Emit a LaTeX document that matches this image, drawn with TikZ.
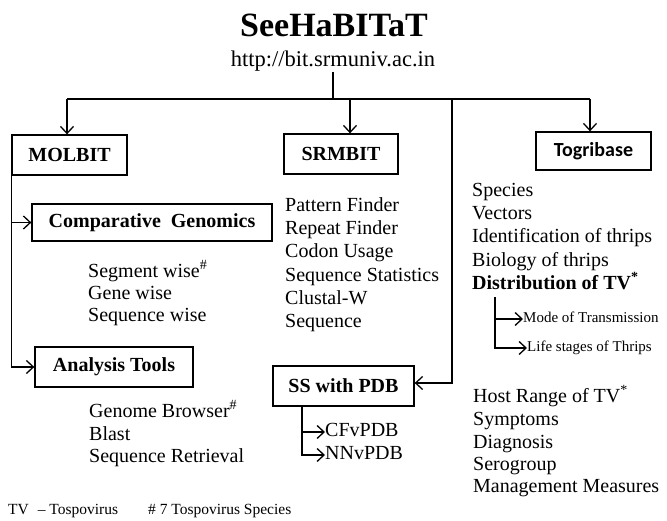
\documentclass[tikz,border=0pt]{standalone}
\usepackage{fontspec}
\setmainfont{Liberation Serif}
\newfontfamily\calib{Carlito}
\usetikzlibrary{arrows.meta}
\tikzset{
  box/.style={draw, line width=1.3pt, rectangle, inner sep=0pt, font=\fontsize{20}{22}\selectfont\bfseries},
  item/.style={anchor=west, inner sep=0pt, text height=13pt, text depth=4pt, font=\fontsize{20}{22}\selectfont},
  small/.style={anchor=west, inner sep=0pt, text height=10pt, text depth=3pt, font=\fontsize{15}{17}\selectfont},
  foot/.style={anchor=west, inner sep=0pt, text height=10pt, text depth=3pt, font=\fontsize{15.5}{17}\selectfont},
  link/.style={line width=1.3pt},
  arr/.style={line width=1.3pt, -{Straight Barb[length=7pt,width=13pt,line width=1.3pt]}},
}
\begin{document}
\begin{tikzpicture}[x=1pt,y=-1pt]
\useasboundingbox (0,0) rectangle (667,521);
% title
\node[font=\fontsize{34}{36}\selectfont\bfseries, inner sep=0pt] (title) at (334,25) {SeeHaBITaT};
\node[font=\fontsize{22.5}{24}\selectfont, inner sep=0pt, text height=16pt, text depth=5pt] (url) at (333,61) {http://bit.srmuniv.ac.in};
% boxes
\node[box, minimum width=115pt, minimum height=40pt] (molbit) at (69.5,155) {MOLBIT};
\node[box, minimum width=240pt, minimum height=37pt] (compgen) at (152,222.5) {Comparative\ \ Genomics};
\node[box, minimum width=158pt, minimum height=40pt] (atools) at (114,367) {Analysis Tools};
\node[box, minimum width=114pt, minimum height=40pt] (srmbit) at (341,154) {SRMBIT};
\node[box, minimum width=141pt, minimum height=40pt] (sspdb) at (343.5,386) {SS with PDB};
\node[box, minimum width=115pt, minimum height=38pt, font=\fontsize{20}{22}\selectfont\calib\bfseries] (togri) at (593.5,151) {Togribase};
% top connectors
\coordinate (hl) at (67,99);
\coordinate (hr) at (590,99);
\coordinate (hv) at (452,99);
\coordinate (hm) at (350,99);
\draw[link] (url.south) -- (url.south |- hl);
\draw[link] (hl) -- (hr);
\draw[arr] (hl) -- (hl |- molbit.north);
\draw[arr] (hm) -- (hm |- srmbit.north);
\draw[arr] (hr) -- (hr |- togri.north);
\coordinate (hvb) at (452,383);
\draw[arr] (hv) -- (hvb) -- (sspdb.east |- hvb);
% MOLBIT tree
\draw[arr] (molbit.south west) |- (atools.west);
\draw[arr] (molbit.south west |- compgen.west) -- (compgen.west);
% Comparative genomics items
\node[item] (seg) at (88,273) {Segment\ wise\textsuperscript{\#}};
\node[item] (gene) at (88,295) {Gene wise};
\node[item] (seqw) at (88,317) {Sequence\ wise};
% Analysis tools items
\node[item] (gb) at (89,413) {Genome Browser\textsuperscript{\#}};
\node[item] (blast) at (89,436) {Blast};
\node[item] (ret) at (89,458) {Sequence\ Retrieval};
% SRMBIT items
\node[item] (pf) at (285,207) {Pattern Finder};
\node[item] (rf) at (285,230) {Repeat Finder};
\node[item] (cu) at (285,253) {Codon Usage};
\node[item] (ss) at (285,277) {Sequence\ Statistics};
\node[item] (cw) at (285,300) {Clustal-W};
\node[item] (sq) at (285,323) {Sequence};
% SS with PDB subtree
\node[item] (cfv) at (325,432) {CFvPDB};
\node[item] (nnv) at (325,455) {NNvPDB};
\coordinate (sst) at (302,406);
\draw[arr] (sst) |- (nnv.west);
\draw[arr] (sst |- cfv.west) -- (cfv.west);
% Togribase items
\node[item] (sp) at (472,192) {Species};
\node[item] (vec) at (472,215) {Vectors};
\node[item] (idt) at (472,238) {Identification of thrips};
\node[item] (bio) at (472,262) {Biology of thrips};
\node[item, font=\fontsize{20}{22}\selectfont\bfseries] (dist) at (472,285) {Distribution of TV\textsuperscript{*}};
\node[small] (mode) at (523,319) {Mode of Transmission};
\node[small] (life) at (527,348) {Life stages of Thrips};
\coordinate (dtop) at (495,297);
\draw[arr] (dtop) |- (life.west);
\draw[arr] (dtop |- mode.west) -- (mode.west);
\node[item] (host) at (473,398) {Host Range of TV\textsuperscript{*}};
\node[item] (sym) at (473,421) {Symptoms};
\node[item] (diag) at (473,444) {Diagnosis};
\node[item] (sero) at (473,466) {Serogroup};
\node[item] (mgmt) at (473,488) {Management\ Measures};
% footer
\node[foot] (f1) at (8,511) {TV\hspace{9pt}-- Tospovirus};
\node[foot] (f2) at (148,511) {\#\ 7 Tospovirus Species};
\end{tikzpicture}
\end{document}
